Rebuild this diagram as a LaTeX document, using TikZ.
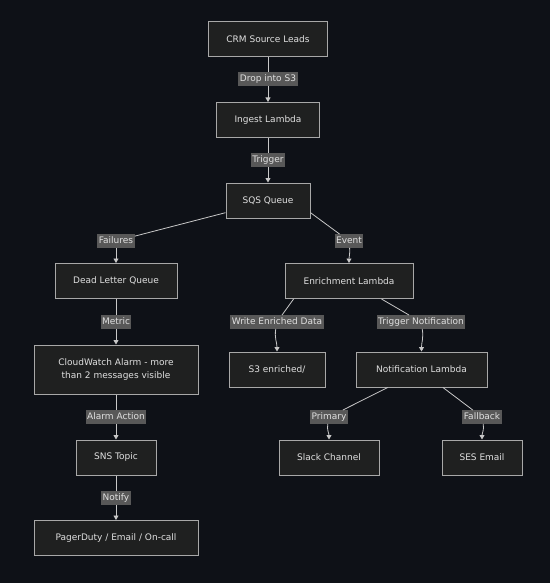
\documentclass[tikz,border=0pt]{standalone}
\usepackage{fontspec}
\setmainfont{DejaVu Sans}
\usepackage{tikz}
\usetikzlibrary{arrows.meta, positioning}
\definecolor{canvasbg}{HTML}{0E1117}
\definecolor{boxfill}{HTML}{1F2020}
\definecolor{boxline}{HTML}{A8A8A8}
\definecolor{tagfill}{HTML}{585858}
\definecolor{wirecol}{HTML}{C8C8C8}
\definecolor{txtcol}{HTML}{E0E0E0}

\tikzset{
  box/.style={draw=boxline, fill=boxfill, line width=1pt, text=txtcol,
    font=\fontsize{9}{13.5}\selectfont, minimum height=35pt, inner xsep=4pt},
  tag/.style={fill=tagfill, text=txtcol, font=\fontsize{9}{10}\selectfont,
    inner xsep=1.5pt, inner ysep=2pt, text height=7.5pt, text depth=2pt},
  wire/.style={draw=wirecol, line width=0.8pt},
  arr/.style={wire, -{Triangle[width=5pt,length=4.5pt]}},
}

\begin{document}
\begin{tikzpicture}[x=1pt, y=-1pt]
  \useasboundingbox[fill=canvasbg] (0,0) rectangle (550,583);

  % boxes: \node[box, minimum width=w] (name) at (x,y) {text};
  \node[box, minimum width=119pt] (crm)    at (268,39.5)  {CRM Source Leads};
  \node[box, minimum width=103pt] (ingest) at (268,120)   {Ingest Lambda};
  \node[box, minimum width=84pt]  (sqs)    at (268,200.5) {SQS Queue};
  \node[box, minimum width=122pt] (dlq)    at (116,281)   {Dead Letter Queue};
  \node[box, minimum width=128pt] (enrich) at (349,281)   {Enrichment Lambda};
  \node[box, minimum width=164pt, align=center, minimum height=49pt] (alarm) at (116,369.5)
    {CloudWatch Alarm - more\\than 2 messages visible};
  \node[box, minimum width=96pt]  (store)  at (277,369.5) {S3 enriched/};
  \node[box, minimum width=131pt] (notify) at (421.5,369.5) {Notification Lambda};
  \node[box, minimum width=80pt]  (sns)    at (116,457.5) {SNS Topic};
  \node[box, minimum width=100pt] (slack)  at (329,457.5) {Slack Channel};
  \node[box, minimum width=80pt]  (ses)    at (482,457.5) {SES Email};
  \node[box, minimum width=164pt] (pager)  at (116,538)   {PagerDuty / Email / On-call};

  % edge labels
  \node[tag] (tDrop)   at (268,79)  {Drop into S3};
  \node[tag] (tTrig)   at (268,160) {Trigger};
  \node[tag] (tFail)   at (116,241) {Failures};
  \node[tag] (tEvent)  at (349,241) {Event};
  \node[tag] (tMetric) at (116,322) {Metric};
  \node[tag] (tWrite)  at (277,322) {Write Enriched Data};
  \node[tag] (tNotif)  at (421,322) {Trigger Notification};
  \node[tag] (tAlarm)  at (116,417) {Alarm Action};
  \node[tag] (tPrim)   at (329,417) {Primary};
  \node[tag] (tFall)   at (482,417) {Fallback};
  \node[tag] (tPage)   at (116,498) {Notify};

  % connectors
  \draw[wire] (crm) -- (tDrop);    \draw[arr] (tDrop) -- (ingest);
  \draw[wire] (ingest) -- (tTrig); \draw[arr] (tTrig) -- (sqs);
  \draw[wire] (sqs.196) -- (tFail); \draw[arr] (tFail) -- (dlq);
  \draw[wire] (sqs.-16) -- (tEvent); \draw[arr] (tEvent) to[out=-85, in=90] (enrich);
  \draw[wire] (dlq) -- (tMetric);  \draw[arr] (tMetric) -- (alarm);
  \draw[wire] (enrich.198) -- (tWrite); \draw[arr] (tWrite) to[out=-100, in=90] (store);
  \draw[wire] (enrich.-29) -- (tNotif); \draw[arr] (tNotif) to[out=-80, in=90] (notify);
  \draw[wire] (alarm) -- (tAlarm); \draw[arr] (tAlarm) -- (sns);
  \draw[wire] (notify.208) -- (tPrim); \draw[arr] (tPrim) to[out=-100, in=90] (slack);
  \draw[wire] (notify.-40) -- (tFall); \draw[arr] (tFall) to[out=-80, in=90] (ses);
  \draw[wire] (sns) -- (tPage);    \draw[arr] (tPage) -- (pager);
\end{tikzpicture}
\end{document}
